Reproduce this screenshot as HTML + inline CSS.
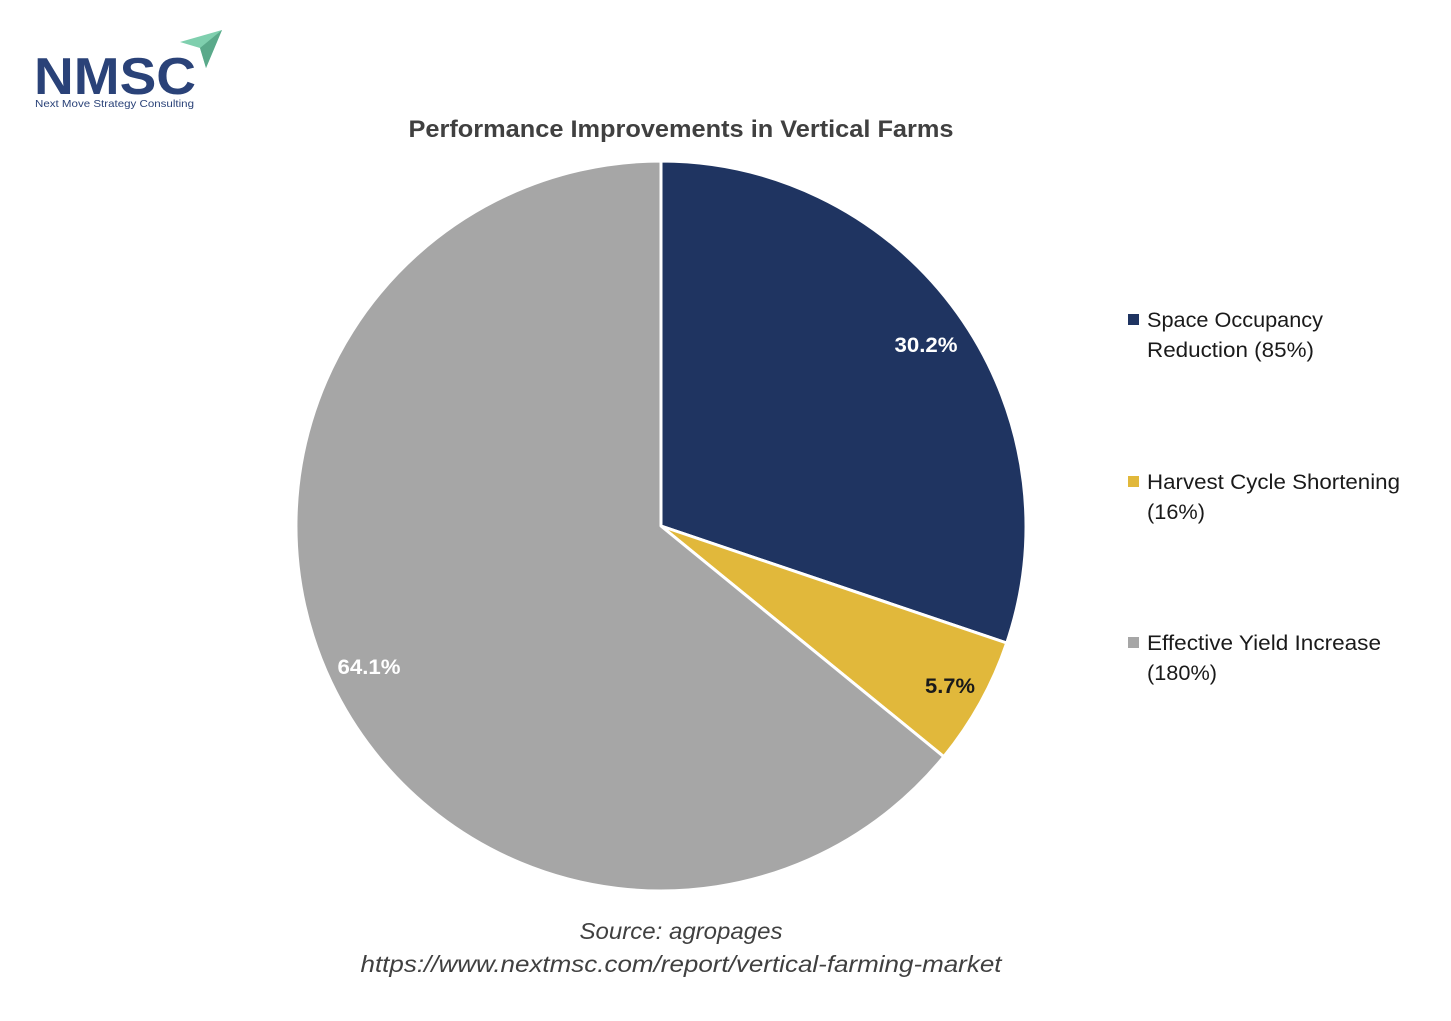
<!DOCTYPE html>
<html><head><meta charset="utf-8"><style>
html,body{margin:0;padding:0;background:#fff;}
svg{display:block;}
text{font-family:"Liberation Sans",sans-serif;}
</style></head><body>
<svg width="1451" height="1021" viewBox="0 0 1451 1021" xmlns="http://www.w3.org/2000/svg">
<rect width="1451" height="1021" fill="#fff"/>
<!-- logo -->
<text x="34" y="94" font-size="52" font-weight="bold" fill="#2a4278" textLength="162" lengthAdjust="spacingAndGlyphs">NMSC</text>
<polygon points="180,42 222,30 206,68 200,48" fill="#7fcfae"/>
<polygon points="200,48 222,30 206,68" fill="#5aa98a"/>
<text x="35" y="107" font-size="10.5" fill="#2a4278" textLength="159" lengthAdjust="spacingAndGlyphs">Next Move Strategy Consulting</text>
<!-- title -->
<text x="681" y="137" font-size="24" font-weight="bold" fill="#404040" text-anchor="middle" textLength="545" lengthAdjust="spacingAndGlyphs">Performance Improvements in Vertical Farms</text>
<!-- pie -->
<g stroke="#fff" stroke-width="3" stroke-linejoin="round">
<path d="M661,526 L661,161 A365,365 0 0 1 1006.7,643 Z" fill="#1f3461"/>
<path d="M661,526 L1006.7,643 A365,365 0 0 1 943.8,756.7 Z" fill="#e1b83b"/>
<path d="M661,526 L943.8,756.7 A365,365 0 1 1 661,161 Z" fill="#a6a6a6"/>
</g>
<text x="926" y="352" font-size="21" font-weight="bold" fill="#fff" text-anchor="middle" textLength="63" lengthAdjust="spacingAndGlyphs">30.2%</text>
<text x="950" y="693" font-size="21" font-weight="bold" fill="#1a1a1a" text-anchor="middle" textLength="50" lengthAdjust="spacingAndGlyphs">5.7%</text>
<text x="369" y="674" font-size="21" font-weight="bold" fill="#fff" text-anchor="middle" textLength="63" lengthAdjust="spacingAndGlyphs">64.1%</text>
<!-- legend -->
<rect x="1128" y="314" width="11" height="11" fill="#1f3461"/>
<text x="1147" y="327" font-size="21" fill="#1a1a1a" textLength="176" lengthAdjust="spacingAndGlyphs">Space Occupancy</text>
<text x="1147" y="357" font-size="21" fill="#1a1a1a" textLength="167" lengthAdjust="spacingAndGlyphs">Reduction (85%)</text>
<rect x="1128" y="476" width="11" height="11" fill="#e1b83b"/>
<text x="1147" y="489" font-size="21" fill="#1a1a1a" textLength="253" lengthAdjust="spacingAndGlyphs">Harvest Cycle Shortening</text>
<text x="1147" y="519" font-size="21" fill="#1a1a1a" textLength="58" lengthAdjust="spacingAndGlyphs">(16%)</text>
<rect x="1128" y="637" width="11" height="11" fill="#a6a6a6"/>
<text x="1147" y="650" font-size="21" fill="#1a1a1a" textLength="234" lengthAdjust="spacingAndGlyphs">Effective Yield Increase</text>
<text x="1147" y="680" font-size="21" fill="#1a1a1a" textLength="70" lengthAdjust="spacingAndGlyphs">(180%)</text>
<!-- source -->
<text x="681" y="939" font-size="23" font-style="italic" fill="#404040" text-anchor="middle" textLength="203" lengthAdjust="spacingAndGlyphs">Source: agropages</text>
<text x="681" y="972" font-size="23" font-style="italic" fill="#404040" text-anchor="middle" textLength="641" lengthAdjust="spacingAndGlyphs">https://www.nextmsc.com/report/vertical-farming-market</text>
</svg>
</body></html>
